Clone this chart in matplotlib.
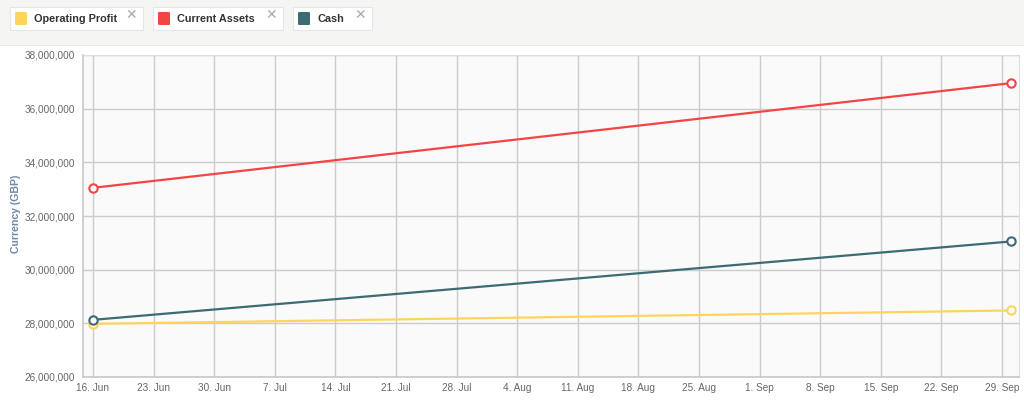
import matplotlib
matplotlib.use("Agg")
import matplotlib.pyplot as plt
import matplotlib.dates as mdates
from matplotlib.patches import Rectangle, FancyBboxPatch
from matplotlib.ticker import FuncFormatter
import datetime as dt

# ---- data ----
series_names = ["Operating Profit", "Current Assets", "Cash"]
series_colors = ["#FFD45C", "#F44545", "#3D6B73"]
dates = [dt.datetime(2014, 6, 16), dt.datetime(2014, 9, 30)]
operating_profit = [27980000, 28480000]
current_assets = [33050000, 36950000]
cash = [28130000, 31050000]
tick_dates = [dt.datetime(2014, 6, 16) + dt.timedelta(days=7 * i) for i in range(16)]
y_ticks = [26000000, 28000000, 30000000, 32000000, 34000000, 36000000, 38000000]
y_label = "Currency (GBP)"

W, H = 1024, 400
plt.rcParams["font.family"] = ["Liberation Sans", "DejaVu Sans"]
fig = plt.figure(figsize=(W / 100, H / 100), dpi=100)
fig.patch.set_facecolor("white")

# top band
fig.patches.append(Rectangle((0, 1 - 45 / H), 1, 45 / H, transform=fig.transFigure,
                             facecolor="#f5f5f4", edgecolor="none", zorder=0))
fig.patches.append(Rectangle((0, 1 - 46 / H), 1, 1.2 / H, transform=fig.transFigure,
                             facecolor="#e8e8e8", edgecolor="none", zorder=0))

# legend chips
boxes = [(10, 143), (153, 283), (293, 372)]
for (x0, x1), name, col in zip(boxes, series_names, series_colors):
    fig.patches.append(Rectangle((x0 / W, 1 - 31 / H), (x1 - x0) / W, 23 / H,
                                 transform=fig.transFigure, facecolor="#e0e0e0",
                                 edgecolor="none", zorder=1))
    fig.patches.append(Rectangle((x0 / W, 1 - 30 / H), (x1 - x0) / W, 23 / H,
                                 transform=fig.transFigure, facecolor="white",
                                 edgecolor="#e6e6e6", linewidth=0.8, zorder=1))
    fig.patches.append(FancyBboxPatch(((x0 + 5) / W, 1 - 25 / H), 12 / W, 13 / H,
                                      boxstyle="round,pad=0,rounding_size=0.002",
                                      transform=fig.transFigure, facecolor=col,
                                      edgecolor="none", zorder=2))
    fig.text((x0 + 24) / W, 1 - 18.5 / H, name, fontsize=7.8, fontweight="bold",
             color="#333333", va="center", ha="left", zorder=3)
    fig.text((x1 - 12) / W, 1 - 15.5 / H, "\u2715", fontsize=10, color="#aaaaaa",
             va="center", ha="center", zorder=3, family=["DejaVu Sans"])

ax = fig.add_axes([83 / W, 1 - 377 / H, (1019 - 83) / W, (377 - 55) / H])
ax.set_facecolor("#fafafa")

d = mdates.date2num(dates)
for vals, col in zip([operating_profit, current_assets, cash], series_colors):
    ax.plot(d, vals, color=col, linewidth=1.6, marker="o", markersize=6,
            markerfacecolor="white", markeredgecolor=col, markeredgewidth=1.5,
            zorder=3, clip_on=False)

t0 = mdates.date2num(tick_dates[0])
t1 = mdates.date2num(tick_dates[-1])
ax.set_xlim(t0 - 1.155, t1 + 1.964)
ax.set_ylim(26000000, 38000000)
ax.set_xticks(mdates.date2num(tick_dates))
ax.set_xticklabels([f"{t.day}. {t.strftime('%b')}" for t in tick_dates])
ax.set_yticks(y_ticks)
ax.yaxis.set_major_formatter(FuncFormatter(lambda v, p: f"{int(v):,}"))

ax.grid(True, color="#cccccc", linewidth=1)
ax.set_axisbelow(True)
for s in ["top", "right"]:
    ax.spines[s].set_color("#dddddd")
for s in ["left", "bottom"]:
    ax.spines[s].set_color("#c8c8c8")
    ax.spines[s].set_linewidth(1.2)
ax.tick_params(axis="both", length=0, labelsize=7.2, labelcolor="#666666")
ax.tick_params(axis="x", pad=4)
ax.tick_params(axis="y", pad=5.8)

fig.text(16 / W, 1 - 214 / H, y_label, rotation=90, fontsize=7.6, color="#6f89aa",
         fontweight="bold", ha="center", va="center")

fig.savefig("out.png", dpi=100, facecolor=fig.get_facecolor())
